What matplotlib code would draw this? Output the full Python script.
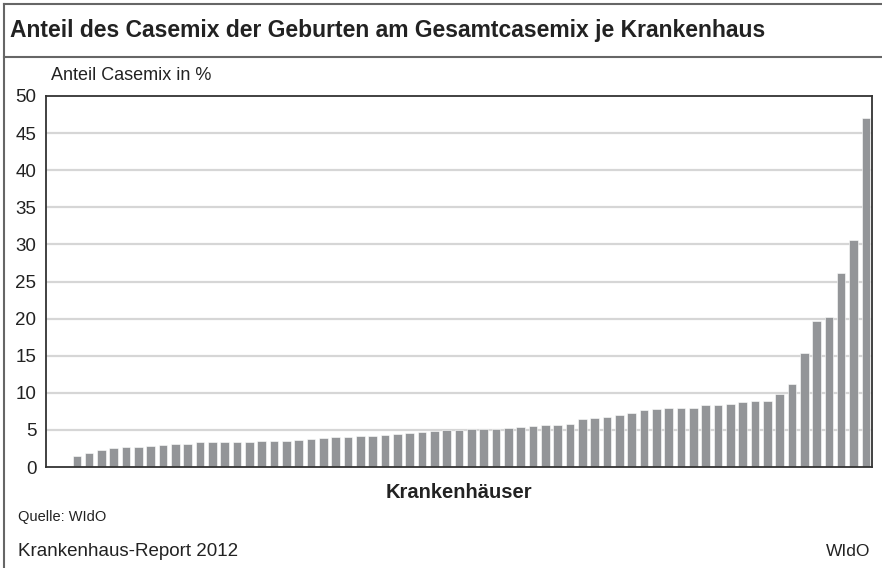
import numpy as np
import matplotlib.pyplot as plt
from matplotlib.lines import Line2D

plt.rcParams['font.family'] = ['Liberation Sans', 'DejaVu Sans']

# Anteil Casemix der Geburten je Krankenhaus (sortiert), in %
anteil = [1.46, 1.95, 2.3, 2.53, 2.71, 2.72, 2.89, 3.03, 3.16, 3.16,
          3.34, 3.34, 3.39, 3.39, 3.43, 3.48, 3.48, 3.48, 3.61, 3.83,
          3.92, 4.0, 4.06, 4.19, 4.24, 4.28, 4.42, 4.64, 4.77, 4.91,
          5.04, 5.04, 5.08, 5.08, 5.18, 5.27, 5.4, 5.58, 5.63, 5.67,
          5.76, 6.43, 6.65, 6.75, 6.97, 7.33, 7.65, 7.82, 7.96, 7.96,
          8.0, 8.36, 8.4, 8.54, 8.8, 8.86, 8.94, 9.84, 11.18, 15.3,
          19.7, 20.19, 26.15, 30.58, 47.07]
yticks = [0, 5, 10, 15, 20, 25, 30, 35, 40, 45, 50]

W, H = 882, 568
fig = plt.figure(figsize=(W / 100, H / 100), dpi=100)

ax = fig.add_axes([46 / W, (H - 467) / H, 826 / W, 371 / H])
x = np.arange(len(anteil))
ax.bar(x, anteil, width=0.7, color='#939598', edgecolor='white', linewidth=0.4, zorder=3)
ax.set_xlim(-2.5, len(anteil) - 0.5)
ax.set_ylim(0, 50)
ax.set_yticks(yticks)
ax.set_xticks([])
for v in yticks[1:-1]:
    ax.axhline(v, color='#d6d6d6', lw=1.6, zorder=1)
ax.tick_params(axis='y', length=0, pad=7, labelsize=13.5, colors='#222222')
for s in ax.spines.values():
    s.set_color('#333333')
    s.set_linewidth(1.3)
    s.set_zorder(4)

fig.text(51 / W, 1 - 76 / H, 'Anteil Casemix in %', fontsize=13, va='center', ha='left', color='#222222')
fig.text(10 / W, 1 - 31 / H, 'Anteil des Casemix der Geburten am Gesamtcasemix je Krankenhaus',
         fontsize=16.5, fontweight='bold', va='center', ha='left', color='#222222')
fig.text(459 / W, 1 - 492 / H, 'Krankenhäuser', fontsize=14.5, fontweight='bold',
         va='center', ha='center', color='#222222')
fig.text(18 / W, 1 - 517 / H, 'Quelle: WIdO', fontsize=10.5, va='center', ha='left', color='#222222')
fig.text(18 / W, 1 - 552 / H, 'Krankenhaus-Report 2012', fontsize=13.5, va='center', ha='left', color='#222222')
fig.text(870 / W, 1 - 552 / H, 'WIdO', fontsize=12.5, va='center', ha='right', color='#222222')

# outer frame
fc = '#666666'
fig.add_artist(Line2D([3.5 / W, 3.5 / W], [0, 1 - 4 / H], color=fc, lw=1.5))
fig.add_artist(Line2D([3.5 / W, 1], [1 - 4 / H, 1 - 4 / H], color=fc, lw=1.5))
fig.add_artist(Line2D([3.5 / W, 1], [1 - 57 / H, 1 - 57 / H], color=fc, lw=1.5))

fig.savefig('out.png', dpi=100)
